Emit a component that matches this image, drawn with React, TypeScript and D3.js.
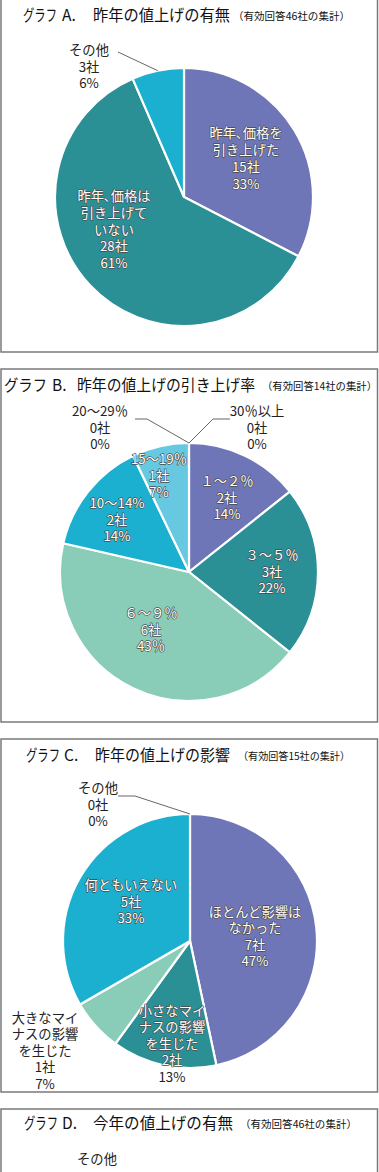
import React from "react";
import * as d3 from "d3";

// ---------- DATA ----------
const aCategories = [["昨年､価格を", "引き上げた"], ["昨年､価格は", "引き上げて", "いない"], ["その他"]];
const aCounts = [15, 28, 3];
const aPercents = ["33%", "61%", "6%"];

const bCategories = [["１～２％"], ["３～５％"], ["６～９％"], ["10～14%"], ["15～19％"], ["20～29％"], ["30％以上"]];
const bCounts = [2, 3, 6, 2, 1, 0, 0];
const bPercents = ["14%", "22%", "43％", "14%", "7%", "0%", "0%"];

const cCategories = [["ほとんど影響は", "なかった"], ["小さなマイ", "ナスの影響", "を生じた"], ["大きなマイ", "ナスの影響", "を生じた"], ["何ともいえない"], ["その他"]];
const cCounts = [7, 2, 1, 5, 0];
const cPercents = ["47%", "13%", "7%", "33%", "0%"];

const titles = [
  { head: "グラフ", letter: "A.", main: "昨年の値上げの有無", sub: "（有効回答46社の集計）" },
  { head: "グラフ", letter: "B.", main: "昨年の値上げの引き上げ率", sub: "（有効回答14社の集計）" },
  { head: "グラフ", letter: "C.", main: "昨年の値上げの影響", sub: "（有効回答15社の集計）" },
  { head: "グラフ", letter: "D.", main: "今年の値上げの有無", sub: "（有効回答46社の集計）" },
];
const dLabel = ["その他"];

// ---------- STYLE / LAYOUT ----------
const PURPLE = "#6e76b8";
const TEAL = "#2a9096";
const CYAN = "#1bb0cf";
const MINT = "#89cdb9";
const SKY = "#66c9e1";
const FONT = "'Noto Sans CJK JP', 'Noto Sans', sans-serif";

const aColors = [PURPLE, TEAL, CYAN];
const bColors = [PURPLE, TEAL, MINT, CYAN, SKY, "#999", "#999"];
const cColors = [PURPLE, TEAL, MINT, CYAN, "#999"];

type LabelLayout = { dx: number; dy: number; outside?: boolean; leader?: [number, number][]; lastDark?: boolean };

const aLayout: LabelLayout[] = [
  { dx: 62, dy: -39 },
  { dx: -70, dy: 32 },
  { dx: -95, dy: -131, outside: true, leader: [[-66, -145]] },
];
const bLayout: LabelLayout[] = [
  { dx: 38, dy: -75 },
  { dx: 83, dy: -1 },
  { dx: -38, dy: 57 },
  { dx: -72, dy: -53 },
  { dx: -30, dy: -97 },
  { dx: -89, dy: -145, outside: true, leader: [[-54, -153], [-42, -153]] },
  { dx: 68, dy: -145, outside: true, leader: [[41, -153], [24, -153]] },
];
const cLayout: LabelLayout[] = [
  { dx: 65, dy: -5 },
  { dx: -18, dy: 102, lastDark: true },
  { dx: -145, dy: 109, outside: true },
  { dx: -59, dy: -40 },
  { dx: -92, dy: -137, outside: true, leader: [[-72, -145], [-55, -145]] },
];

type PanelGeom = { top: number; bottom: number; titleY: number; xs: [number, number, number, number, number]; mainW: number; subW: number };
const panels: PanelGeom[] = [
  { top: -2, bottom: 352, titleY: 21, xs: [23, 57, 62, 93, 233], mainW: 137, subW: 117 },
  { top: 369, bottom: 722, titleY: 391, xs: [4, 47, 52, 77, 262], mainW: 178, subW: 115 },
  { top: 739, bottom: 1092, titleY: 761, xs: [26, 60, 64, 95, 238], mainW: 135, subW: 112 },
  { top: 1109, bottom: 1200, titleY: 1129, xs: [24, 58, 62, 93, 240], mainW: 140, subW: 117 },
];

const LEFT = 1;
const RIGHT = 377.5;

function Title({ p, t }: { p: PanelGeom; t: (typeof titles)[number] }) {
  return (
    <g fontFamily={FONT} fill="#111">
      <text x={p.xs[0]} y={p.titleY} fontSize={15.5} textLength={p.xs[1] - p.xs[0]} lengthAdjust="spacingAndGlyphs">
        {t.head}
      </text>
      <text x={p.xs[2]} y={p.titleY} fontSize={15.5}>
        {t.letter}
      </text>
      <text x={p.xs[3]} y={p.titleY} fontSize={15.5} textLength={p.mainW} lengthAdjust="spacingAndGlyphs">
        {t.main}
      </text>
      <text x={p.xs[4]} y={p.titleY - 1} fontSize={10.5} textLength={p.subW} lengthAdjust="spacingAndGlyphs">
        {t.sub}
      </text>
    </g>
  );
}

function Pie({
  cx, cy, r, counts, colors, cats, pcts, layout, lh,
}: {
  cx: number; cy: number; r: number; counts: number[]; colors: string[]; cats: string[][]; pcts: string[]; layout: LabelLayout[]; lh: number;
}) {
  const pie = d3.pie<number>().sort(null).value((d) => d).startAngle(0).endAngle(2 * Math.PI);
  const arcs = pie(counts);
  const arc = d3.arc<d3.PieArcDatum<number>>().innerRadius(0).outerRadius(r);
  return (
    <g>
      <g transform={`translate(${cx},${cy})`}>
        {arcs.map((a, i) =>
          a.value > 0 ? (
            <path key={i} d={arc(a) || ""} fill={colors[i]} stroke="#fff" strokeWidth={2.2} strokeLinejoin="miter" />
          ) : null
        )}
      </g>
      {arcs.map((a, i) => {
        const L = layout[i];
        const lines = [...cats[i], `${counts[i]}社`, pcts[i]];
        const n = lines.length;
        const mid = (a.startAngle + a.endAngle) / 2;
        const ax = cx + r * Math.sin(mid);
        const ay = cy - r * Math.cos(mid);
        return (
          <g key={i}>
            {L.leader ? (
              <polyline
                points={[...L.leader.map(([x, y]) => `${cx + x},${cy + y}`), `${ax},${ay}`].join(" ")}
                fill="none"
                stroke="#555"
                strokeWidth={0.9}
              />
            ) : null}
            {lines.map((s, k) => {
              const dark = L.outside || (L.lastDark && k === n - 1);
              return (
                <text
                  key={k}
                  x={cx + L.dx}
                  y={cy + L.dy + (k - (n - 1) / 2) * lh}
                  textAnchor="middle"
                  dominantBaseline="central"
                  fontFamily={FONT}
                  fontSize={13.3}
                  fill={dark ? "#222" : "#fff"}
                  stroke={dark ? "none" : "#4a4a4a"}
                  strokeWidth={dark ? 0 : 1.3}
                  paintOrder="stroke"
                  strokeLinejoin="round"
                >
                  {s}
                </text>
              );
            })}
          </g>
        );
      })}
    </g>
  );
}

export default function App() {
  const W = 379;
  const H = 1172;
  return (
    <svg width={W} height={H} style={{ position: "absolute", left: 0, top: 0, background: "#fff" }}>
      <rect x={0} y={0} width={W} height={H} fill="#fff" />
      {panels.map((p, i) => (
        <rect key={i} x={LEFT} y={p.top} width={RIGHT - LEFT} height={p.bottom - p.top} fill="none" stroke="#7a7a7a" strokeWidth={1.5} />
      ))}
      {panels.map((p, i) => (
        <Title key={i} p={p} t={titles[i]} />
      ))}
      <Pie cx={184} cy={197} r={129} counts={aCounts} colors={aColors} cats={aCategories} pcts={aPercents} layout={aLayout} lh={16.8} />
      <Pie cx={189} cy={572} r={129} counts={bCounts} colors={bColors} cats={bCategories} pcts={bPercents} layout={bLayout} lh={16.3} />
      <Pie cx={190} cy={941} r={127} counts={cCounts} colors={cColors} cats={cCategories} pcts={cPercents} layout={cLayout} lh={16.5} />
      <text x={97} y={1158} textAnchor="middle" dominantBaseline="central" fontFamily={FONT} fontSize={13.3} fill="#222">
        {dLabel[0]}
      </text>
    </svg>
  );
}
